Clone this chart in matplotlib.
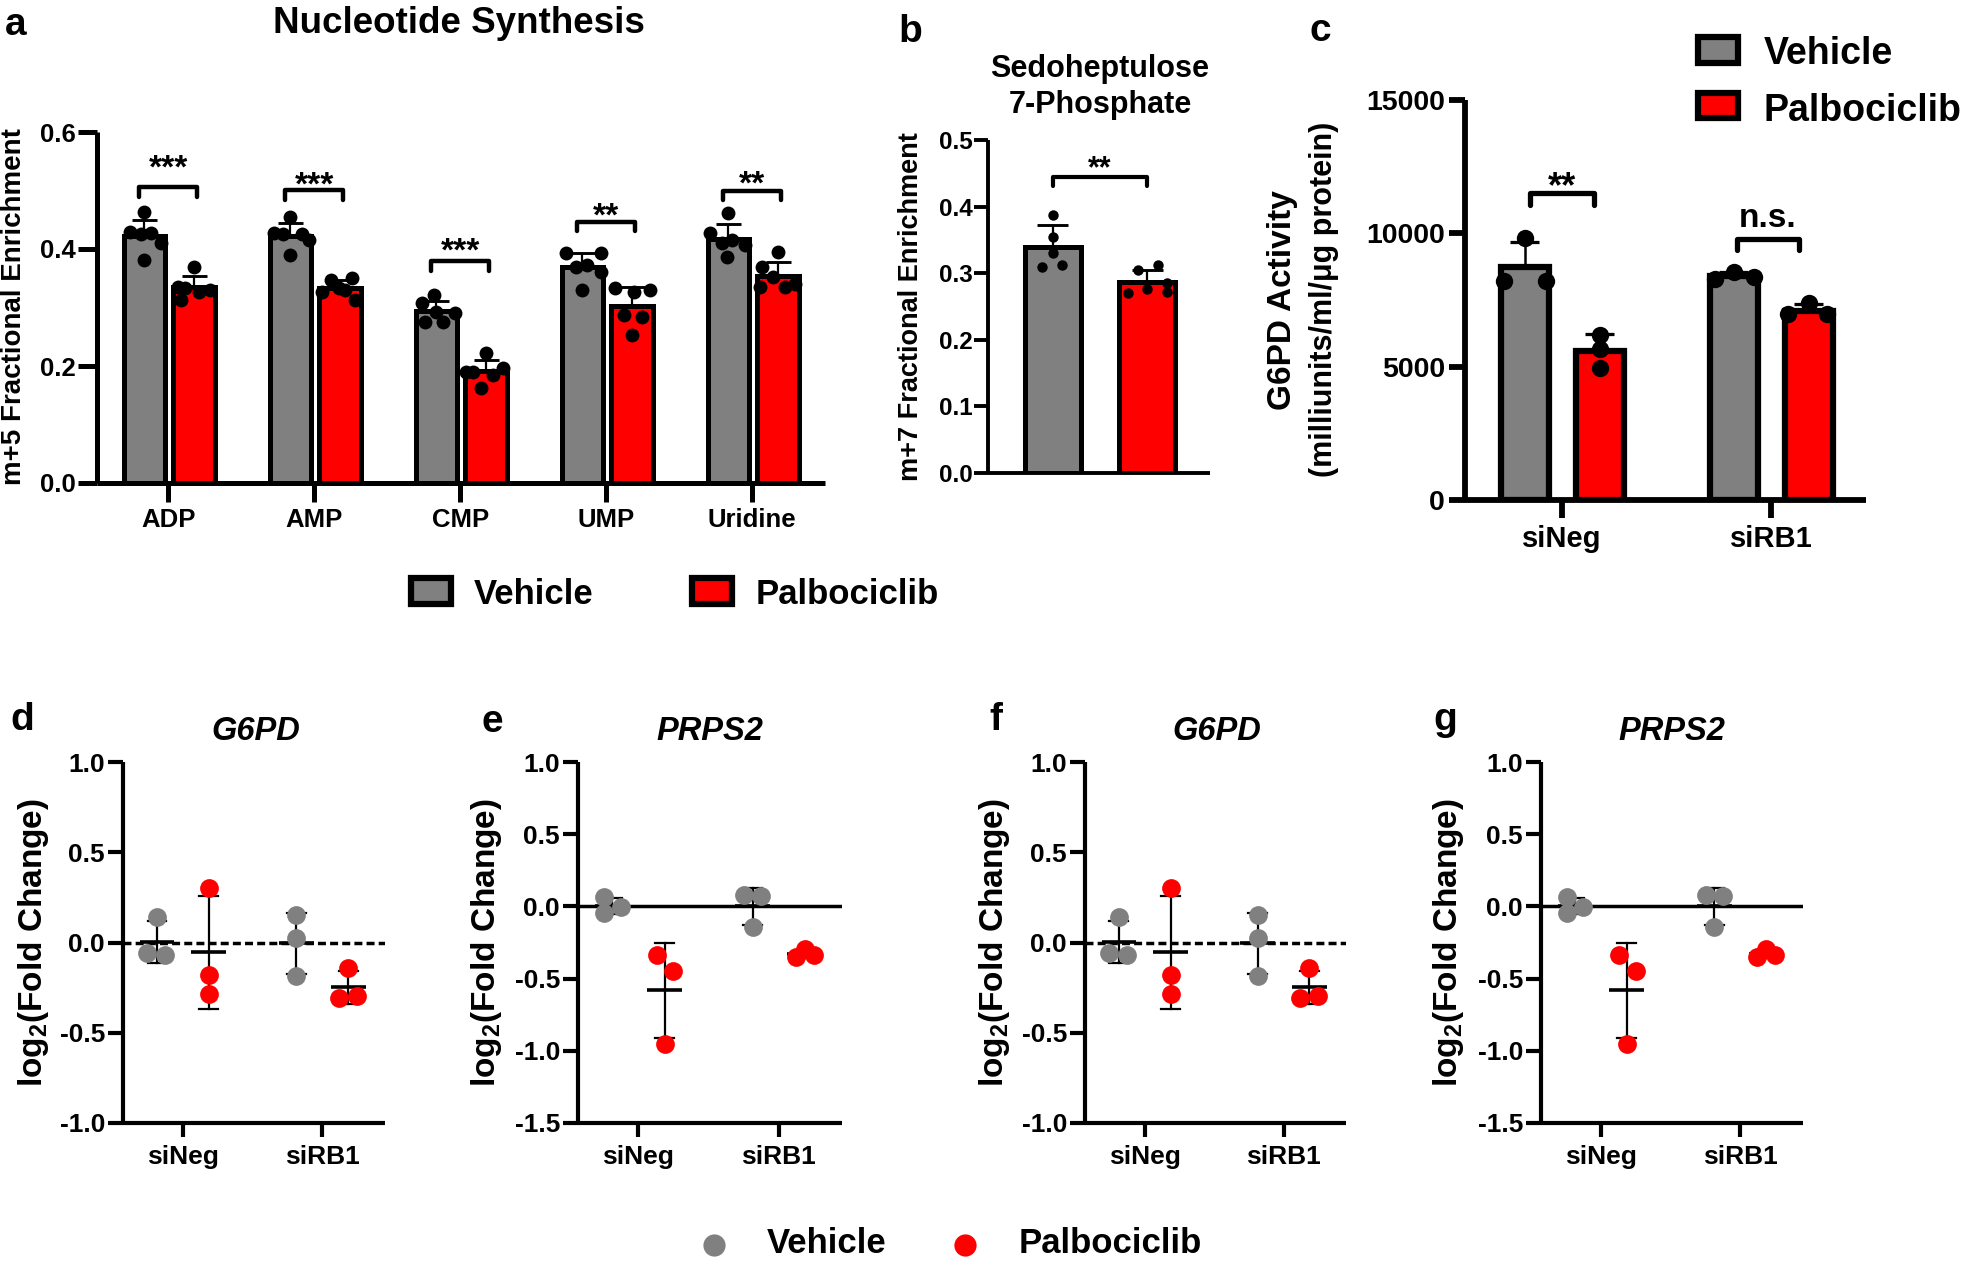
import numpy as np
import matplotlib
matplotlib.use('Agg')
import matplotlib.pyplot as plt
from matplotlib.patches import Rectangle

plt.rcParams['font.family'] = ['Liberation Sans', 'DejaVu Sans']
plt.rcParams['font.weight'] = 'bold'
plt.rcParams['axes.unicode_minus'] = False
plt.rcParams['mathtext.default'] = 'regular'

W, H = 1961, 1262
GRAY = '#808080'
RED = '#FF0000'

# ---------------- data ----------------
# Panel a: m+5 fractional enrichment (6 replicates each)
A_CATS = ['ADP', 'AMP', 'CMP', 'UMP', 'Uridine']
A_VEH = [
    [0.463, 0.429, 0.427, 0.425, 0.410, 0.381],
    [0.455, 0.427, 0.425, 0.425, 0.415, 0.390],
    [0.321, 0.308, 0.292, 0.290, 0.275, 0.275],
    [0.393, 0.393, 0.373, 0.370, 0.361, 0.330],
    [0.462, 0.427, 0.415, 0.410, 0.407, 0.386],
]
A_PAL = [
    [0.369, 0.335, 0.313, 0.327, 0.330, 0.333],
    [0.350, 0.347, 0.327, 0.333, 0.313, 0.330],
    [0.222, 0.190, 0.185, 0.197, 0.162, 0.190],
    [0.333, 0.327, 0.330, 0.287, 0.284, 0.253],
    [0.395, 0.369, 0.352, 0.335, 0.335, 0.340],
]
A_SIG = ['***', '***', '***', '**', '**']
A_YTICKS = [0.0, 0.2, 0.4, 0.6]
A_YTICKLABELS = ['0.0', '0.2', '0.4', '0.6']

# Panel b: Sedoheptulose 7-phosphate m+7
B_VEH = [0.388, 0.355, 0.331, 0.310, 0.313]
B_PAL = [0.305, 0.313, 0.270, 0.277, 0.286, 0.272]
B_SIG = '**'
B_YTICKS = [0.0, 0.1, 0.2, 0.3, 0.4, 0.5]
B_YTICKLABELS = ['0.0', '0.1', '0.2', '0.3', '0.4', '0.5']

# Panel c: G6PD activity
C_CATS = ['siNeg', 'siRB1']
C_VEH = [[9812, 8204, 8204], [8284, 8565, 8364]]
C_PAL = [[6193, 5670, 4946], [6957, 7399, 6957]]
C_SIG = ['**', 'n.s.']
C_YTICKS = [0, 5000, 10000, 15000]
C_YTICKLABELS = ['0', '5000', '10000', '15000']

# Panels d/f (G6PD) and e/g (PRPS2): log2 fold change
DG_CATS = ['siNeg', 'siRB1']
G6PD_VEH = [[0.14, -0.06, -0.07], [0.15, 0.024, -0.188]]
G6PD_PAL = [[0.30, -0.178, -0.288], [-0.142, -0.31, -0.294]]
PRPS2_VEH = [[0.064, -0.048, -0.007], [0.076, 0.071, -0.145]]
PRPS2_PAL = [[-0.337, -0.448, -0.956], [-0.353, -0.298, -0.340]]
G6PD_YTICKS = [-1.0, -0.5, 0.0, 0.5, 1.0]
G6PD_YTICKLABELS = ['-1.0', '-0.5', '0.0', '0.5', '1.0']
PRPS2_YTICKS = [-1.5, -1.0, -0.5, 0.0, 0.5, 1.0]
PRPS2_YTICKLABELS = ['-1.5', '-1.0', '-0.5', '0.0', '0.5', '1.0']

# ---------------- style (horizontal scatter spread of replicate dots) ----------------
A_VEH_JIT = [[0, -0.10, 0.046, -0.023, 0.11, 0],
             [0, -0.11, -0.05, 0.08, 0.125, 0],
             [-0.02, -0.10, 0.0, 0.125, -0.08, 0.045],
             [-0.11, 0.125, 0.034, -0.046, 0.125, 0],
             [0, -0.125, 0.023, -0.046, 0.114, -0.01]]
A_PAL_JIT = [[0, -0.11, -0.09, 0.03, 0.11, -0.06],
             [0.08, -0.06, -0.125, -0.01, 0.10, 0.03],
             [0, -0.09, 0.046, 0.114, -0.034, -0.137],
             [-0.116, 0.01, 0.123, -0.059, 0.066, 0],
             [0, -0.114, -0.034, -0.125, 0.046, 0.114]]
B_VEH_JIT = [0, 0, 0, -0.11, 0.105]
B_PAL_JIT = [-0.095, 0.11, -0.2, 0, 0.21, 0.21]
C_VEH_JIT = [[0, -0.1, 0.1], [-0.09, 0, 0.095]]
C_PAL_JIT = [[0, 0, 0], [-0.1, 0, 0.09]]
G6PD_VEH_JIT = [[0, -0.07, 0.06], [0, 0, 0]]
G6PD_PAL_JIT = [[0, 0, 0], [0, -0.067, 0.064]]
PRPS2_VEH_JIT = [[-0.06, -0.06, 0.06], [-0.06, 0.06, 0]]
PRPS2_PAL_JIT = [[-0.055, 0.064, 0], [-0.067, 0, 0.064]]

fig = plt.figure(figsize=(W / 100, H / 100), dpi=100)


def px_axes(x0, x1, ytop, ybot):
    return fig.add_axes([x0 / W, 1 - ybot / H, (x1 - x0) / W, (ybot - ytop) / H])


def style_axes(ax, lw):
    for s in ['top', 'right']:
        ax.spines[s].set_visible(False)
    for s in ['left', 'bottom']:
        ax.spines[s].set_linewidth(lw)
        ax.spines[s].set_capstyle('butt')
    ax.set_facecolor('none')


def bar_series(ax, xs, groups, jits, off, width, color, elw, cap, ms, edge_lw):
    means = [np.mean(g) for g in groups]
    sds = [np.std(g, ddof=1) for g in groups]
    xb = np.asarray(xs, dtype=float) + off
    ax.bar(xb, means, width=width, color=color, edgecolor='black',
           linewidth=edge_lw, zorder=2)
    for xi, m, s, g, j in zip(xb, means, sds, groups, jits):
        ax.plot([xi, xi], [m, m + s], color='black', lw=elw, zorder=3,
                solid_capstyle='butt')
        ax.plot([xi - cap, xi + cap], [m + s, m + s], color='black',
                lw=elw * 1.3, zorder=3, solid_capstyle='butt')
        ax.scatter(xi + np.asarray(j), g, s=ms ** 2, color='black', zorder=4,
                   linewidths=0, clip_on=False)


def bracket(ax, x1, x2, y, leg, lw):
    ax.plot([x1, x1, x2, x2], [y - leg, y, y, y - leg], color='black', lw=lw,
            solid_joinstyle='round', solid_capstyle='round', zorder=5,
            clip_on=False)


def stars(ax, x, yc, txt, fs):
    ax.annotate(txt, (x, yc), xytext=(0, -0.57 * fs), textcoords='offset points',
                ha='center', va='baseline', fontsize=fs, fontweight='bold',
                annotation_clip=False)


# ---------------- panel a ----------------
axa = px_axes(97, 825, 132, 483)
xa = np.arange(len(A_CATS))
bar_series(axa, xa, A_VEH, A_VEH_JIT, -0.163, 0.285, GRAY, 1.6, 0.085, 10, 3.6)
bar_series(axa, xa, A_PAL, A_PAL_JIT, 0.178, 0.285, RED, 1.6, 0.085, 10, 3.6)
A_BR_Y = [0.506, 0.501, 0.379, 0.447, 0.500]
A_ST_Y = [0.555, 0.526, 0.413, 0.472, 0.528]
for i in range(len(A_CATS)):
    bracket(axa, xa[i] - 0.20, xa[i] + 0.20, A_BR_Y[i], 0.017, 3.2)
    stars(axa, xa[i], A_ST_Y[i], A_SIG[i], 24)
axa.set_xlim(-0.488, 4.498)
axa.set_ylim(0, 0.6)
axa.set_yticks(A_YTICKS)
axa.set_yticklabels(A_YTICKLABELS)
axa.set_xticks(xa)
axa.set_xticklabels(A_CATS)
style_axes(axa, 3.6)
axa.tick_params(axis='y', length=14, width=3.6, labelsize=18.5, pad=1)
axa.tick_params(axis='x', length=14, width=3.6, labelsize=18.5, pad=4)

# ---------------- panel b ----------------
axb = px_axes(988, 1210, 140, 473)
bar_series(axb, [0], [B_VEH], [B_VEH_JIT], 0, 0.59, GRAY, 1.6, 0.165, 7.5, 3.6)
bar_series(axb, [1], [B_PAL], [B_PAL_JIT], 0, 0.59, RED, 1.6, 0.165, 7.5, 3.6)
bracket(axb, 0.0, 1.0, 0.444, 0.013, 3.0)
stars(axb, 0.5, 0.470, B_SIG, 22)
axb.set_xlim(-0.68, 1.66)
axb.set_ylim(0, 0.5)
axb.set_yticks(B_YTICKS)
axb.set_yticklabels(B_YTICKLABELS)
axb.set_xticks([])
style_axes(axb, 2.8)
axb.tick_params(axis='y', length=10, width=2.8, labelsize=17.5, pad=1)

# ---------------- panel c ----------------
axc = px_axes(1465, 1866, 100, 500)
xc = np.arange(len(C_CATS))
bar_series(axc, xc, C_VEH, C_VEH_JIT, -0.178, 0.23, GRAY, 1.8, 0.07, 12.5, 4.5)
bar_series(axc, xc, C_PAL, C_PAL_JIT, 0.18, 0.23, RED, 1.8, 0.07, 12.5, 4.5)
bracket(axc, -0.153, 0.153, 11512, 450, 3.8)
stars(axc, 0.0, 12112, C_SIG[0], 26)
bracket(axc, 1 - 0.163, 1 + 0.134, 9787, 412, 3.8)
axc.text(1 - 0.015, 10250, C_SIG[1], ha='center', va='baseline', fontsize=24,
         fontweight='bold')
axc.set_xlim(-0.464, 1.455)
axc.set_ylim(0, 15000)
axc.set_yticks(C_YTICKS)
axc.set_yticklabels(C_YTICKLABELS)
axc.set_xticks(xc)
axc.set_xticklabels(C_CATS)
style_axes(axc, 4.2)
axc.tick_params(axis='y', length=11.5, width=4.2, labelsize=20.5, pad=3)
axc.tick_params(axis='x', length=13, width=4.2, labelsize=21, pad=5)


# ---------------- panels d-g ----------------
def dot_panel(x0, x1, veh, pal, vjit, pjit, ylim, yt, ytl, dashed):
    ax = px_axes(x0, x1, 762, 1123)
    xs = np.arange(len(DG_CATS))
    if dashed:
        ax.axhline(0, color='black', lw=2.5, ls=(0, (2.3, 1.2)), zorder=1)
    else:
        ax.axhline(0, color='black', lw=2.5, zorder=1)
    for groups, jits, off, col in [(veh, vjit, -0.186, GRAY), (pal, pjit, 0.186, RED)]:
        for xi, g, j in zip(xs + off, groups, jits):
            m = np.mean(g)
            s = np.std(g, ddof=1)
            ax.plot([xi, xi], [m - s, m + s], color='black', lw=1.6, zorder=2)
            for yy in (m - s, m + s):
                ax.plot([xi - 0.068, xi + 0.068], [yy, yy], color='black', lw=1.6, zorder=2)
            ax.plot([xi - 0.125, xi + 0.125], [m, m], color='black', lw=2.6, zorder=2,
                    solid_capstyle='butt')
            ax.scatter(xi + np.asarray(j), g, s=13.5 ** 2, color=col, zorder=3,
                       linewidths=0, clip_on=False)
    ax.set_xlim(-0.43, 1.45)
    ax.set_ylim(*ylim)
    ax.set_yticks(yt)
    ax.set_yticklabels(ytl)
    ax.set_xticks(xs)
    ax.set_xticklabels(DG_CATS)
    style_axes(ax, 3.0)
    ax.tick_params(axis='y', length=11, width=3.0, labelsize=19, pad=2)
    ax.tick_params(axis='x', length=10, width=3.0, labelsize=19, pad=6)
    return ax


dot_panel(123, 385, G6PD_VEH, G6PD_PAL, G6PD_VEH_JIT, G6PD_PAL_JIT, (-1.0, 1.0),
          G6PD_YTICKS, G6PD_YTICKLABELS, True)
dot_panel(578, 842, PRPS2_VEH, PRPS2_PAL, PRPS2_VEH_JIT, PRPS2_PAL_JIT, (-1.5, 1.0),
          PRPS2_YTICKS, PRPS2_YTICKLABELS, False)
dot_panel(1085, 1346, G6PD_VEH, G6PD_PAL, G6PD_VEH_JIT, G6PD_PAL_JIT, (-1.0, 1.0),
          G6PD_YTICKS, G6PD_YTICKLABELS, True)
dot_panel(1541, 1803, PRPS2_VEH, PRPS2_PAL, PRPS2_VEH_JIT, PRPS2_PAL_JIT, (-1.5, 1.0),
          PRPS2_YTICKS, PRPS2_YTICKLABELS, False)

# ---------------- overlay: labels, titles, legends ----------------
ov = fig.add_axes([0, 0, 1, 1], zorder=10)
ov.set_xlim(0, W)
ov.set_ylim(H, 0)
ov.axis('off')


def T(x, y, s, fs, ha='center', va='baseline', rot=0, style='normal'):
    ov.text(x, y, s, fontsize=fs, ha=ha, va=va, rotation=rot, fontweight='bold',
            fontstyle=style)


# panel letters
T(16, 35, 'a', 28)
T(910, 42, 'b', 28)
T(1320, 41, 'c', 28)
T(22, 730, 'd', 28)
T(492, 732, 'e', 28)
T(996, 730, 'f', 28)
T(1445, 730, 'g', 28)

# titles
T(459, 33, 'Nucleotide Synthesis', 26.5)
T(1100, 77, 'Sedoheptulose', 22)
T(1100, 113, '7-Phosphate', 22)
T(256, 740, 'G6PD', 23.5, style='italic')
T(710, 740, 'PRPS2', 23.5, style='italic')
T(1217, 740, 'G6PD', 23.5, style='italic')
T(1672, 740, 'PRPS2', 23.5, style='italic')

# y labels
T(14, 307, 'm+5 Fractional Enrichment', 20, va='center', rot=90)
T(911, 307, 'm+7 Fractional Enrichment', 19.5, va='center', rot=90)
T(1282, 300, 'G6PD Activity', 24, va='center', rot=90)
T(1324, 299, '(milliunits/ml/\u03bcg protein)', 22, va='center', rot=90)
for xl in (34, 487, 995, 1448):
    T(xl, 943, 'log$_2$(Fold Change)', 24, va='center', rot=90)

# legend under panel a
ov.add_patch(Rectangle((411, 578), 40, 26, facecolor=GRAY, edgecolor='black', lw=4.5))
ov.add_patch(Rectangle((692, 578), 40, 26, facecolor=RED, edgecolor='black', lw=4.5))
T(474, 604, 'Vehicle', 25, ha='left')
T(756, 604, 'Palbociclib', 25, ha='left')

# legend panel c
ov.add_patch(Rectangle((1698, 37), 40, 26, facecolor=GRAY, edgecolor='black', lw=4.5))
ov.add_patch(Rectangle((1698, 93), 40, 25, facecolor=RED, edgecolor='black', lw=4.5))
T(1764, 64, 'Vehicle', 27, ha='left')
T(1764, 121, 'Palbociclib', 27, ha='left')

# bottom legend
ov.scatter([714], [1245], s=16 ** 2, color=GRAY, linewidths=0)
ov.scatter([965], [1245], s=16 ** 2, color=RED, linewidths=0)
T(767, 1253, 'Vehicle', 25, ha='left')
T(1019, 1253, 'Palbociclib', 25, ha='left')

fig.savefig('out.png', dpi=100)
